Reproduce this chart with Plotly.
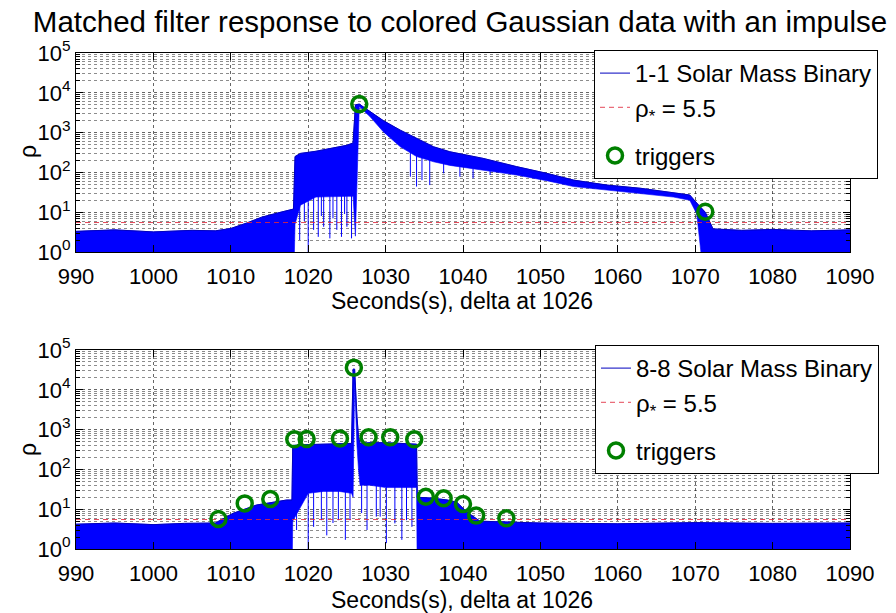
import plotly.graph_objects as go

# ---------------- text ----------------
title_text = "Matched filter response to colored Gaussian data with an impulse"
x_label = "Seconds(s), delta at 1026"
y_label = "ρ"
x_ticks = [990, 1000, 1010, 1020, 1030, 1040, 1050, 1060, 1070, 1080, 1090]
y_ticks = [1, 10, 100, 1000, 10000, 100000]
y_tick_labels = ["10<sup>0</sup>", "10<sup>1</sup>", "10<sup>2</sup>",
                 "10<sup>3</sup>", "10<sup>4</sup>", "10<sup>5</sup>"]
threshold = 5.5
threshold_name = "ρ<sub>*</sub> = 5.5"

# ---------------- top panel: 1-1 Solar Mass Binary (envelope) ----------------
top_name = "1-1 Solar Mass Binary"
top_x = [990, 995, 1000, 1005, 1008, 1010, 1012, 1014, 1016, 1018.1, 1018.3, 1019, 1021, 1023,
         1025, 1025.8, 1026.1, 1026.6, 1028, 1029.7, 1031.9, 1034, 1036.2, 1038.3, 1042.6,
         1046.9, 1050.8, 1054.3, 1058.6, 1062.9, 1067.2, 1069.3, 1070.2, 1071.3, 1072.3, 1076,
         1080, 1085, 1090]
top_hi = [3.3, 3.6, 3.2, 3.5, 3.4, 3.9, 5.3, 7.5, 9.5, 12, 250, 300, 340, 400,
          480, 550, 5000, 5200, 3300, 2000, 1150, 720, 440, 330, 225,
          140, 95, 64, 48, 40, 30, 27, 17, 10, 3.8, 3.5,
          3.7, 3.4, 3.6]
top_lo = [0.1, 0.1, 0.1, 0.1, 0.1, 0.1, 0.1, 0.1, 0.1, 0.1, 5, 15, 24, 24,
          25, 25, 2.5, 4500, 2500, 1050, 440, 250, 185, 150, 115,
          86, 62, 44, 36, 30, 24, 20, 9, 0.1, 0.1, 0.1,
          0.1, 0.1, 0.1]
top_spike_x = [1018.9, 1019.5, 1020.0, 1020.7, 1021.3, 1021.7, 1022.0, 1022.8, 1023.2, 1023.7,
               1024.3, 1024.7, 1025.0, 1025.6, 1033.2, 1034.0, 1034.7, 1035.7, 1037.5, 1039.6,
               1041.3, 1043.5]
top_spike_lo = [2.0, 6, 0.5, 3.6, 2.4, 8, 4.3, 2.2, 7, 3.6,
                2.4, 9, 4.3, 2.2, 78, 44, 64, 48, 95, 78,
                71, 86]
top_spike_top = [100, 100, 100, 100, 100, 100, 100, 100, 100, 100,
                 100, 100, 100, 100, 400, 300, 300, 250, 200, 180,
                 150, 150]
top_trig_x = [1026.6, 1071.3]
top_trig_y = [5200, 10.3]

# ---------------- bottom panel: 8-8 Solar Mass Binary ----------------
bot_name = "8-8 Solar Mass Binary"
bot_x = [990, 995, 1000, 1004, 1008, 1010.3, 1013.3, 1017.2, 1017.9, 1018.0, 1020, 1022, 1024,
         1025.6, 1025.8, 1026.0, 1026.3, 1026.5, 1026.7, 1028, 1030, 1032, 1034.0, 1034.1,
         1036, 1038, 1039.2, 1040.5, 1042.2, 1050, 1060, 1070, 1080, 1090]
bot_hi = [4.2, 4.5, 4.1, 4.4, 4.5, 7.9, 12.7, 17, 17, 400, 420, 430, 450,
          450, 33000, 33000, 2100, 660, 450, 470, 470, 450, 430, 20,
          19, 17, 15, 8.5, 5, 4.5, 4.3, 4.6, 4.4, 4.5]
bot_lo = [0.1, 0.1, 0.1, 0.1, 0.1, 0.1, 0.1, 0.1, 0.1, 5, 25, 28, 28,
          25, 20, 15000, 400, 100, 40, 40, 35, 35, 35, 0.1,
          0.1, 0.1, 0.1, 0.1, 0.1, 0.1, 0.1, 0.1, 0.1, 0.1]
bot_spike_x = [1018.5, 1020.0, 1020.7, 1021.7, 1022.4, 1023.2, 1023.9, 1024.8, 1025.4,
               1026.9, 1027.6, 1028.8, 1029.3, 1030.1, 1031.2, 1032.1, 1032.7, 1033.4]
bot_spike_lo = [3.0, 0.5, 3.6, 5.3, 2.2, 4.5, 5.3, 1.7, 5.3,
                8, 3.0, 6.5, 6.5, 1.4, 4.4, 1.7, 5.3, 3.6]
bot_spike_top = [60, 60, 60, 60, 60, 60, 60, 60, 60,
                 100, 60, 60, 60, 60, 60, 60, 60, 60]
bot_trig_x = [1008.4, 1011.8, 1015.1, 1018.2, 1019.8, 1024.1, 1025.9, 1027.8, 1030.6,
              1033.7, 1035.2, 1037.5, 1040.0, 1041.7, 1045.6]
bot_trig_y = [5.7, 14, 18, 570, 580, 600, 36000, 640, 640,
              570, 20.6, 18.8, 13.5, 6.9, 5.9]

BLUE = "rgb(0,0,255)"
GREEN = "rgb(0,128,0)"
RED = "rgba(225,40,60,0.85)"
FONT = "Liberation Sans, Arial, sans-serif"

fig = go.Figure()


def add_panel(xa, ya, leg, name, ex, hi, lo, sx, slo, stop, tx, ty, grp):
    # filled noise band
    fig.add_trace(go.Scatter(
        x=ex + ex[::-1], y=hi + lo[::-1], mode="lines", fill="toself",
        fillcolor=BLUE, line=dict(color=BLUE, width=0.6),
        showlegend=False, hoverinfo="skip", xaxis=xa, yaxis=ya))
    # downward needles
    px, py = [], []
    for a, b, c in zip(sx, slo, stop):
        px += [a, a, None]
        py += [c, b, None]
    fig.add_trace(go.Scatter(
        x=px, y=py, mode="lines", line=dict(color=BLUE, width=1),
        showlegend=False, hoverinfo="skip", xaxis=xa, yaxis=ya))
    # upper edge line (legend entry)
    fig.add_trace(go.Scatter(
        x=ex, y=hi, mode="lines", line=dict(color="rgb(0,0,190)", width=1),
        name=name, legend=leg, legendgroup=grp + "a", xaxis=xa, yaxis=ya))
    # threshold
    fig.add_trace(go.Scatter(
        x=[x_ticks[0], x_ticks[-1]], y=[threshold, threshold], mode="lines",
        line=dict(color=RED, width=1, dash="5px,4px"),
        name=threshold_name, legend=leg, legendgroup=grp + "a", xaxis=xa, yaxis=ya))
    # triggers
    fig.add_trace(go.Scatter(
        x=tx, y=ty, mode="markers",
        marker=dict(symbol="circle-open", size=15, color=GREEN, line=dict(width=3.5, color=GREEN)),
        name="triggers", legend=leg, legendgroup=grp + "b", xaxis=xa, yaxis=ya))


add_panel("x", "y", "legend", top_name, top_x, top_hi, top_lo,
          top_spike_x, top_spike_lo, top_spike_top, top_trig_x, top_trig_y, "t")
add_panel("x2", "y2", "legend2", bot_name, bot_x, bot_hi, bot_lo,
          bot_spike_x, bot_spike_lo, bot_spike_top, bot_trig_x, bot_trig_y, "b")

W, H = 896, 613
xdom = [76 / W, 850 / W]
ydom_top = [1 - 252 / H, 1 - 53 / H]
ydom_bot = [1 - 549 / H, 1 - 350 / H]

minor_vals = [m * 10 ** e for e in range(5) for m in range(2, 10)]

def xaxis_cfg(anchor):
    return dict(domain=xdom, range=[x_ticks[0], x_ticks[-1]], anchor=anchor, automargin=False,
                tickmode="array", tickvals=x_ticks, ticks="inside", ticklen=7,
                tickcolor="black", mirror="allticks", showline=True, linecolor="black",
                linewidth=1, showgrid=True, gridcolor="rgba(0,0,0,0.6)", griddash="dot",
                gridwidth=1, zeroline=False, ticklabelstandoff=5,
                tickfont=dict(family=FONT, size=22, color="black"))

def yaxis_cfg(dom, anchor):
    return dict(domain=dom, type="log", range=[0, 5], anchor=anchor, automargin=False,
                tickmode="array", tickvals=y_ticks, ticktext=y_tick_labels,
                ticks="inside", ticklen=7, tickcolor="black", mirror="allticks",
                showline=True, linecolor="black", linewidth=1,
                showgrid=True, gridcolor="rgba(0,0,0,0.6)", griddash="dot", gridwidth=1,
                zeroline=False,
                minor=dict(tickmode="array", tickvals=minor_vals, ticks="inside", ticklen=4,
                           tickcolor="black", showgrid=True,
                           gridcolor="rgba(0,0,0,0.45)", griddash="dot", gridwidth=1),
                tickfont=dict(family=FONT, size=22, color="black"))

legend_common = dict(xref="paper", yref="paper", xanchor="left", yanchor="top",
                     bgcolor="white", bordercolor="black", borderwidth=1,
                     font=dict(family=FONT, size=24, color="black"),
                     traceorder="grouped", tracegroupgap=14, itemwidth=30)

fig.update_layout(
    width=W, height=H, margin=dict(l=0, r=0, t=0, b=0, autoexpand=False),
    paper_bgcolor="white", plot_bgcolor="white",
    xaxis=xaxis_cfg("y"), yaxis=yaxis_cfg(ydom_top, "x"),
    xaxis2=xaxis_cfg("y2"), yaxis2=yaxis_cfg(ydom_bot, "x2"),
    title=dict(text=title_text, x=460 / W, xanchor="center", y=1 - 22 / H, yanchor="middle",
               xref="paper", yref="paper", automargin=False,
               font=dict(family=FONT, size=29.5, color="black")),
    legend=dict(x=594 / W, y=1 - 50 / H, **legend_common),
    legend2=dict(x=595 / W, y=1 - 345 / H, **legend_common),
    showlegend=True,
    annotations=[
        dict(text=x_label, x=462 / W, y=1 - 301 / H, xref="paper", yref="paper",
             showarrow=False, xanchor="center", yanchor="middle",
             font=dict(family=FONT, size=23, color="black")),
        dict(text=x_label, x=462 / W, y=1 - 600 / H, xref="paper", yref="paper",
             showarrow=False, xanchor="center", yanchor="middle",
             font=dict(family=FONT, size=23, color="black")),
        dict(text=y_label, x=28 / W, y=1 - 152 / H, xref="paper", yref="paper",
             showarrow=False, xanchor="center", yanchor="middle", textangle=-90,
             font=dict(family=FONT, size=23, color="black")),
        dict(text=y_label, x=28 / W, y=1 - 450 / H, xref="paper", yref="paper",
             showarrow=False, xanchor="center", yanchor="middle", textangle=-90,
             font=dict(family=FONT, size=23, color="black")),
    ],
)

fig.write_html("out.html")
